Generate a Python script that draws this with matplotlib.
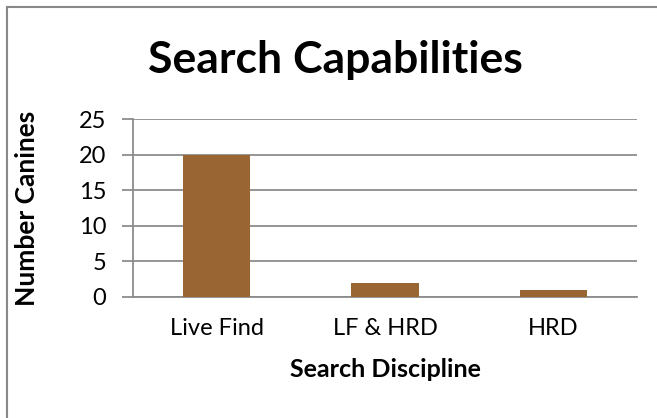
import matplotlib
matplotlib.use('Agg')
import matplotlib.pyplot as plt
from matplotlib.lines import Line2D

categories = ['Live Find', 'LF & HRD', 'HRD']
canines = [20, 2, 1]
yticks = [0, 5, 10, 15, 20, 25]

plt.rcParams['font.family'] = ['Lato', 'DejaVu Sans']

bar_color = '#996633'
grid_color = '#8c8c8c'

fig = plt.figure(figsize=(6.57, 4.18), dpi=100)
ax = fig.add_axes([0.202, 0.2895, 0.768, 0.4251])

x = range(len(categories))
ax.bar(x, canines, width=0.4, color=bar_color, zorder=3)

ax.set_xlim(-0.5, len(categories) - 0.5)
ax.set_ylim(0, 25)
ax.set_yticks(yticks)
ax.set_xticks(list(x))
ax.set_xticklabels(categories, fontsize=17)
ax.set_yticklabels([str(v) for v in yticks], fontsize=17)
ax.tick_params(axis='x', length=0, pad=15)
ax.tick_params(axis='y', length=8, width=1.3, color=grid_color, pad=11)

ax.grid(axis='y', color=grid_color, linewidth=1.3, zorder=0)
for side in ['top', 'right']:
    ax.spines[side].set_visible(False)
ax.spines['left'].set_color(grid_color)
ax.spines['left'].set_linewidth(1.3)
ax.spines['bottom'].set_color(grid_color)
ax.spines['bottom'].set_linewidth(1.3)

ax.set_xlabel('Search Discipline', fontsize=18, fontweight='bold')
ax.set_ylabel('Number Canines', fontsize=19, fontweight='bold')
ax.xaxis.set_label_coords(0.5, -0.345)
ax.yaxis.set_label_coords(-0.186, 0.5)

fig.text(0.51, 0.856, 'Search Capabilities', fontsize=32, fontweight='bold',
         ha='center', va='center')

# outer chart border (left and top only visible)
fig.add_artist(Line2D([0.0099, 0.0099], [0, 0.983], color='#888888', linewidth=1.5,
                      transform=fig.transFigure))
fig.add_artist(Line2D([0.0099, 1.0], [0.983, 0.983], color='#888888', linewidth=1.5,
                      transform=fig.transFigure))

fig.savefig('out.png', dpi=100)
